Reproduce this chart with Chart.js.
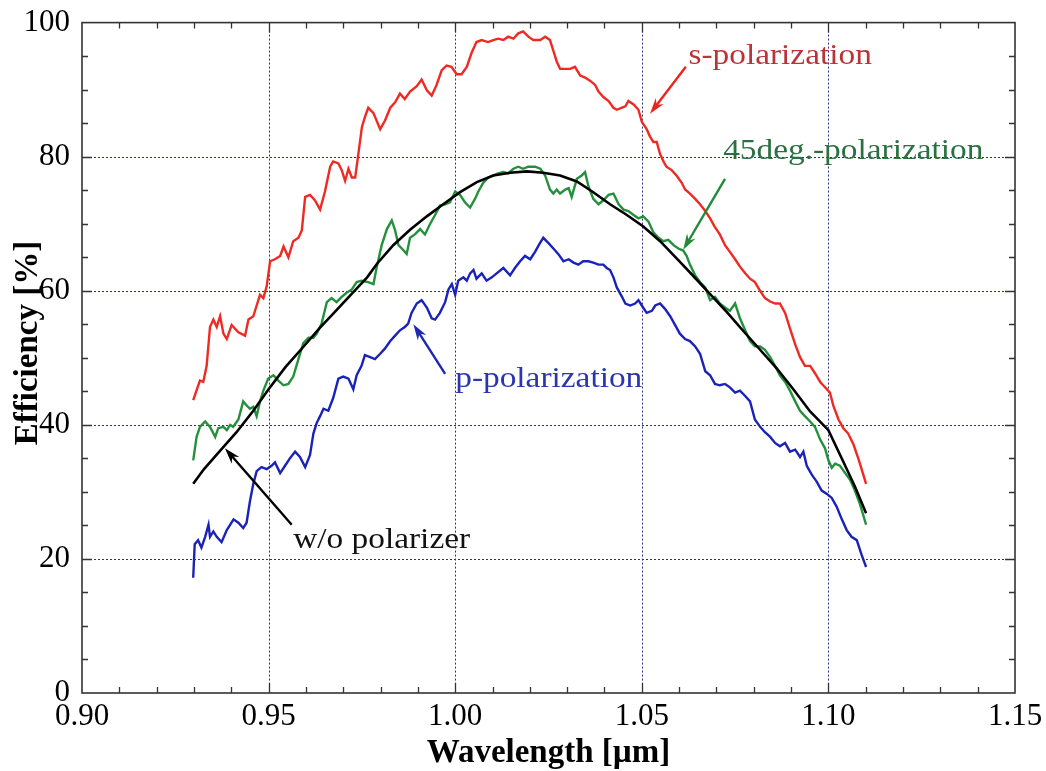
<!DOCTYPE html>
<html>
<head>
<meta charset="utf-8">
<script src="https://cdn.jsdelivr.net/npm/chart.js@4.4.0/dist/chart.umd.min.js"></script>
<style>
  html, body { margin: 0; padding: 0; background: #fff; }
  #wrap { width: 1046px; height: 771px; }
</style>
</head>
<body>
<div id="wrap"><canvas id="chart" width="1046" height="771"></canvas></div>
<script>
// s-polarization
const sWave = [0.9298,0.9316,0.9325,0.9334,0.9343,0.9352,0.9361,0.9370,0.9379,0.9388,0.9401,0.9419,0.9437,0.9446,0.9459,0.9468,0.9477,0.9486,0.9495,0.9504,
  0.9517,0.9531,0.9540,0.9553,0.9566,0.9580,0.9589,0.9598,0.9611,0.9624,0.9638,0.9651,0.9665,0.9673,0.9687,0.9696,0.9705,0.9714,0.9723,0.9732,
  0.9741,0.9750,0.9758,0.9767,0.9781,0.9799,0.9812,0.9826,0.9839,0.9852,0.9865,0.9879,0.9897,0.9910,0.9924,0.9937,0.9950,0.9964,0.9977,0.9990,
  1.0004,1.0017,1.0031,1.0044,1.0057,1.0071,1.0088,1.0102,1.0115,1.0129,1.0142,1.0156,1.0169,1.0182,1.0196,1.0209,1.0228,1.0241,1.0254,1.0263,
  1.0272,1.0281,1.0295,1.0308,1.0321,1.0335,1.0348,1.0362,1.0375,1.0384,1.0397,1.0411,1.0424,1.0433,1.0447,1.0456,1.0464,1.0478,1.0491,1.0500,
  1.0513,1.0522,1.0531,1.0540,1.0549,1.0558,1.0566,1.0580,1.0593,1.0607,1.0616,1.0629,1.0643,1.0656,1.0670,1.0683,1.0696,1.0709,1.0723,1.0736,
  1.0750,1.0763,1.0777,1.0790,1.0803,1.0817,1.0830,1.0844,1.0857,1.0870,1.0884,1.0897,1.0911,1.0924,1.0937,1.0951,1.0964,1.0978,1.0991,1.1004,
  1.1013,1.1027,1.1040,1.1053,1.1067,1.1080,1.1089,1.1101];
const sEff = [43.7,46.6,46.4,48.8,54.6,55.7,54.6,56.2,53.6,52.8,54.9,53.8,53.3,55.7,56.2,57.8,59.4,58.9,60.7,64.4,
  64.7,65.2,66.6,65.0,67.4,67.9,69.0,74.0,74.3,73.5,72.1,74.8,78.5,79.3,79.0,78.0,76.4,78.2,76.9,76.9,
  80.6,84.4,85.9,87.3,86.5,84.1,85.4,87.3,88.1,89.4,88.6,89.7,90.5,91.5,89.9,89.1,90.7,92.9,93.6,93.4,
  92.3,92.3,93.4,95.5,97.1,97.4,97.1,97.4,97.6,97.4,97.9,97.6,98.4,98.7,97.9,97.4,97.4,97.9,97.4,95.8,
  94.2,93.1,93.1,93.1,93.4,92.1,91.8,91.3,90.7,89.7,88.9,88.3,87.3,87.0,87.3,87.5,88.3,87.8,87.0,85.2,
  84.1,83.0,82.2,82.2,80.4,79.3,78.5,78.0,77.2,76.1,75.1,74.5,73.7,72.9,71.9,70.8,69.5,68.4,66.8,65.8,
  64.7,63.6,62.6,61.8,61.3,60.0,58.9,58.4,58.1,58.1,56.7,54.4,52.0,50.1,48.8,48.8,47.7,46.4,45.6,44.8,
  42.9,40.8,39.5,38.7,37.1,35.0,33.4,31.2];

// 45deg.-polarization
const gWave = [0.9298,0.9307,0.9316,0.9330,0.9343,0.9357,0.9365,0.9379,0.9388,0.9397,0.9405,0.9419,0.9432,0.9441,0.9450,0.9459,0.9468,0.9477,0.9486,0.9499,
  0.9513,0.9526,0.9540,0.9553,0.9566,0.9580,0.9593,0.9607,0.9620,0.9629,0.9642,0.9656,0.9669,0.9682,0.9696,0.9709,0.9723,0.9736,0.9749,0.9767,
  0.9781,0.9790,0.9803,0.9817,0.9830,0.9839,0.9848,0.9857,0.9870,0.9879,0.9892,0.9906,0.9919,0.9933,0.9946,0.9959,0.9973,0.9986,1.0000,1.0013,
  1.0026,1.0040,1.0053,1.0062,1.0075,1.0089,1.0102,1.0115,1.0129,1.0142,1.0156,1.0169,1.0182,1.0196,1.0214,1.0228,1.0241,1.0254,1.0263,1.0272,
  1.0281,1.0295,1.0304,1.0312,1.0326,1.0339,1.0348,1.0357,1.0370,1.0384,1.0397,1.0411,1.0424,1.0438,1.0451,1.0464,1.0478,1.0491,1.0504,1.0518,
  1.0531,1.0545,1.0558,1.0571,1.0585,1.0598,1.0611,1.0620,1.0629,1.0643,1.0656,1.0670,1.0683,1.0696,1.0709,1.0723,1.0736,1.0750,1.0763,1.0777,
  1.0790,1.0803,1.0817,1.0830,1.0844,1.0857,1.0870,1.0884,1.0897,1.0911,1.0924,1.0937,1.0951,1.0964,1.0978,1.0991,1.1000,1.1009,1.1018,1.1031,
  1.1045,1.1058,1.1071,1.1085,1.1101];
const gEff = [34.7,38.2,39.7,40.5,39.7,38.2,39.5,39.7,39.2,40.0,39.7,40.8,43.5,42.9,42.4,42.7,41.3,43.5,45.1,46.9,
  47.4,46.6,45.9,46.1,47.2,49.8,52.2,53.0,53.0,53.6,55.1,58.3,58.9,58.3,59.1,59.7,60.2,61.3,61.5,61.3,
  61.0,63.6,66.8,69.2,70.5,69.0,66.8,66.3,65.5,67.9,68.4,69.2,68.4,70.0,71.3,72.7,72.9,73.2,74.8,74.3,
  73.2,72.4,73.7,74.8,76.1,76.9,77.2,77.5,77.7,77.5,78.2,78.5,78.2,78.5,78.5,78.2,77.2,75.1,74.5,75.1,
  74.5,75.1,75.3,74.0,76.7,77.2,77.7,75.6,73.7,72.9,73.5,74.3,74.5,72.9,72.1,71.9,71.3,70.8,71.1,70.3,
  68.7,67.9,67.4,67.6,66.8,66.3,66.0,65.2,63.9,62.3,61.3,60.5,58.6,59.1,58.1,57.5,57.0,58.1,55.9,54.1,
  52.5,51.7,51.7,51.2,50.1,48.8,47.4,46.4,45.1,43.5,42.1,41.3,40.5,39.7,37.8,36.5,34.7,33.6,34.2,33.9,
  32.8,31.8,30.2,28.1,25.1];

// p-polarization
const pWave = [0.9298,0.9302,0.9311,0.9320,0.9330,0.9339,0.9343,0.9352,0.9361,0.9374,0.9388,0.9406,0.9419,0.9432,0.9441,0.9450,0.9459,0.9468,0.9481,0.9495,
  0.9508,0.9517,0.9531,0.9544,0.9557,0.9571,0.9584,0.9598,0.9611,0.9620,0.9629,0.9638,0.9647,0.9660,0.9673,0.9687,0.9700,0.9714,0.9727,0.9736,
  0.9749,0.9758,0.9772,0.9785,0.9799,0.9812,0.9826,0.9839,0.9852,0.9865,0.9874,0.9883,0.9897,0.9910,0.9924,0.9937,0.9946,0.9959,0.9973,0.9982,
  0.9991,1.0000,1.0008,1.0022,1.0031,1.0040,1.0049,1.0057,1.0071,1.0084,1.0098,1.0111,1.0129,1.0147,1.0160,1.0174,1.0187,1.0201,1.0214,1.0227,
  1.0236,1.0250,1.0263,1.0276,1.0290,1.0304,1.0317,1.0330,1.0343,1.0357,1.0370,1.0384,1.0397,1.0406,1.0415,1.0424,1.0433,1.0447,1.0456,1.0469,
  1.0482,1.0491,1.0500,1.0513,1.0527,1.0536,1.0549,1.0562,1.0576,1.0589,1.0602,1.0616,1.0629,1.0643,1.0656,1.0670,1.0683,1.0696,1.0709,1.0723,
  1.0736,1.0750,1.0763,1.0777,1.0790,1.0803,1.0817,1.0830,1.0844,1.0857,1.0870,1.0884,1.0897,1.0911,1.0924,1.0933,1.0942,1.0955,1.0969,1.0982,
  1.0996,1.1009,1.1022,1.1036,1.1049,1.1062,1.1076,1.1089,1.1101];
const pEff = [17.2,22.2,22.8,21.7,23.3,25.1,23.3,24.1,23.3,22.5,24.3,25.9,25.4,24.6,25.4,28.6,31.2,33.1,33.7,33.4,
  33.9,34.4,32.8,33.9,35.0,36.0,35.2,33.7,35.5,38.7,40.3,41.3,42.4,42.1,44.0,46.9,47.2,46.9,45.3,47.4,
  48.8,50.4,50.1,49.8,50.6,51.4,52.5,53.3,54.1,54.6,55.1,56.7,58.1,58.6,57.5,55.9,55.7,56.7,58.3,60.2,
  61.0,59.4,61.5,62.0,61.5,62.6,63.1,61.8,62.6,61.5,62.0,62.6,63.4,62.3,63.4,64.4,65.2,64.7,65.8,67.1,
  67.9,67.1,66.3,65.5,64.4,64.7,64.2,63.9,64.4,64.4,64.2,63.9,63.9,63.4,63.1,62.0,60.5,59.1,58.1,57.8,
  58.1,58.6,57.8,56.7,57.0,57.8,58.1,57.3,56.2,54.9,53.6,52.8,52.5,51.7,50.6,48.0,47.4,46.1,45.9,46.1,
  45.6,44.8,45.1,44.3,43.5,40.8,39.7,38.9,38.2,37.3,36.8,37.3,36.0,36.3,35.2,36.0,33.9,32.6,31.5,30.2,
  29.7,29.1,27.8,25.9,24.3,23.3,22.8,20.6,18.8];

// w/o polarizer
const nWave = [0.9298,0.9327,0.9368,0.9414,0.9459,0.9500,0.9545,0.9591,0.9636,0.9682,0.9727,0.9764,0.9790,0.9834,0.9879,0.9924,0.9968,1.0013,1.0058,1.0102,
  1.0147,1.0192,1.0236,1.0281,1.0326,1.0370,1.0415,1.0460,1.0504,1.0549,1.0594,1.0638,1.0683,1.0728,1.0772,1.0817,1.0862,1.0906,1.0951,1.1000,
  1.1040,1.1071,1.1101];
const nEff = [31.2,33.4,36.0,38.9,42.1,45.3,48.6,51.5,54.4,57.1,59.8,62.0,64.0,66.8,69.1,71.1,72.9,74.7,76.2,77.2,
  77.6,77.8,77.6,77.2,76.3,74.7,72.9,71.3,69.6,67.4,64.8,62.2,59.5,56.8,54.0,51.2,48.4,45.3,42.0,39.2,
  34.5,30.8,26.8];

const xTickLabels = ['0.90', '0.95', '1.00', '1.05', '1.10', '1.15'];
const yTickLabels = ['0', '20', '40', '60', '80', '100'];
const xTitle = 'Wavelength [µm]';
const yTitle = 'Efficiency [%]';

const serif = "'Liberation Serif', 'Times New Roman', serif";

function toPoints(wave, eff)
{
    return wave.map((w, i) => ({x: w, y: eff[i]}));
}

// labels with arrows, in data coordinates
const notes = [
    {text: 's-polarization', color: '#bb3336', arrow: '#e8261f', at: [1.0625, 93.8], tail: [1.0618, 93.4], tip: [1.0522, 86.4]},
    {text: '45deg.-polarization', color: '#2b7040', arrow: '#1f8a38', at: [1.0718, 79.7], tail: [1.0723, 76.7], tip: [1.0611, 66.1]},
    {text: 'p-polarization', color: '#2a35b0', arrow: '#1d27b4', at: [1.0000, 45.6], tail: [0.9973, 47.6], tip: [0.9888, 55.0]},
    {text: 'w/o polarizer', color: '#111', arrow: '#000', at: [0.9566, 21.7], tail: [0.9562, 25.1], tip: [0.9383, 36.5]}
];

const frameColor = '#333';
const gridColor = '#30307a';

const framePlugin = {
    id: 'frame',
    beforeDatasetsDraw(chart)
    {
        const {ctx, chartArea: a, scales: {x, y}} = chart;
        ctx.save();

        // dotted grid at major ticks
        ctx.strokeStyle = gridColor;
        ctx.lineWidth = 1;
        ctx.setLineDash([2, 2]);
        ctx.beginPath();
        for (let i = 1; i < 5; i++) {
            const px = Math.round(x.getPixelForValue(0.90 + i * 0.05)) + 0.5;
            ctx.moveTo(px, a.top);
            ctx.lineTo(px, a.bottom);
            const py = Math.round(y.getPixelForValue(i * 20)) + 0.5;
            ctx.moveTo(a.left, py);
            ctx.lineTo(a.right, py);
        }
        ctx.stroke();
        ctx.setLineDash([]);

        // inward tick marks on all four sides
        ctx.strokeStyle = frameColor;
        ctx.lineWidth = 1.3;
        ctx.beginPath();
        for (let i = 1; i < 25; i++) {
            const len = i % 5 === 0 ? 10 : 6;
            const px = Math.round(x.getPixelForValue(0.90 + i * 0.01)) + 0.5;
            ctx.moveTo(px, a.bottom); ctx.lineTo(px, a.bottom - len);
            ctx.moveTo(px, a.top); ctx.lineTo(px, a.top + len);
        }
        for (let i = 1; i < 20; i++) {
            const len = i % 4 === 0 ? 10 : 6;
            const py = Math.round(y.getPixelForValue(i * 5)) + 0.5;
            ctx.moveTo(a.left, py); ctx.lineTo(a.left + len, py);
            ctx.moveTo(a.right, py); ctx.lineTo(a.right - len, py);
        }
        ctx.stroke();

        ctx.lineWidth = 1.6;
        ctx.strokeRect(a.left, a.top, a.right - a.left, a.bottom - a.top);
        ctx.restore();
    }
};

const notePlugin = {
    id: 'notes',
    afterDatasetsDraw(chart)
    {
        const {ctx, chartArea: a, scales: {x, y}} = chart;
        ctx.save();
        notes.forEach(n => {
            const tx = x.getPixelForValue(n.tail[0]), ty = y.getPixelForValue(n.tail[1]);
            const hx = x.getPixelForValue(n.tip[0]), hy = y.getPixelForValue(n.tip[1]);
            const ang = Math.atan2(hy - ty, hx - tx);
            const c = Math.cos(ang), s = Math.sin(ang);
            ctx.strokeStyle = n.arrow;
            ctx.fillStyle = n.arrow;
            ctx.lineWidth = 2.4;
            ctx.beginPath();
            ctx.moveTo(tx, ty);
            ctx.lineTo(hx - 10 * c, hy - 10 * s);
            ctx.stroke();
            ctx.beginPath();
            ctx.moveTo(hx, hy);
            ctx.lineTo(hx - 16 * c + 5 * s, hy - 16 * s - 5 * c);
            ctx.lineTo(hx - 11 * c, hy - 11 * s);
            ctx.lineTo(hx - 16 * c - 5 * s, hy - 16 * s + 5 * c);
            ctx.closePath();
            ctx.fill();

            // text, slightly widened like the original slide
            const px = x.getPixelForValue(n.at[0]), py = y.getPixelForValue(n.at[1]);
            ctx.save();
            ctx.translate(px, py);
            ctx.scale(1.15, 1);
            ctx.font = '29px ' + serif;
            ctx.fillStyle = n.color;
            ctx.textAlign = 'left';
            ctx.textBaseline = 'alphabetic';
            ctx.fillText(n.text, 0, 0);
            ctx.restore();
        });

        // axis titles
        ctx.fillStyle = '#000';
        ctx.font = 'bold 33px ' + serif;
        ctx.textAlign = 'center';
        ctx.textBaseline = 'middle';
        ctx.fillText(xTitle, (a.left + a.right) / 2, a.bottom + 60);
        ctx.save();
        ctx.translate(28, a.top + (a.bottom - a.top) * 0.478);
        ctx.rotate(-Math.PI / 2);
        ctx.fillText(yTitle, 0, 0);
        ctx.restore();
        ctx.restore();
    }
};

const chart = new Chart(document.getElementById('chart').getContext('2d'), {
    type: 'line',
    data: {
        datasets: [
            {label: 'w/o polarizer', data: toPoints(nWave, nEff), borderColor: '#000000', borderWidth: 2.6},
            {label: '45deg.-polarization', data: toPoints(gWave, gEff), borderColor: '#25903c', borderWidth: 2.4},
            {label: 'p-polarization', data: toPoints(pWave, pEff), borderColor: '#1a22b8', borderWidth: 2.4},
            {label: 's-polarization', data: toPoints(sWave, sEff), borderColor: '#ee2a22', borderWidth: 2.4}
        ]
    },
    options: {
        responsive: false,
        animation: false,
        devicePixelRatio: 1,
        layout: {padding: {top: 18, right: 31, left: 0, bottom: 0}},
        elements: {point: {radius: 0}, line: {tension: 0}},
        plugins: {legend: {display: false}, tooltip: {enabled: false}},
        scales: {
            x: {
                type: 'linear',
                min: 0.90,
                max: 1.15,
                afterFit: s => { s.height = 78; },
                afterBuildTicks: s => { s.ticks = xTickLabels.map(t => ({value: parseFloat(t)})); },
                ticks: {
                    callback: v => v.toFixed(2),
                    font: {family: serif, size: 31},
                    color: '#000',
                    padding: -3,
                    maxRotation: 0
                },
                grid: {display: false},
                border: {display: false},
                title: {display: false}
            },
            y: {
                min: 0,
                max: 100,
                afterFit: s => { s.width = 82; },
                afterBuildTicks: s => { s.ticks = yTickLabels.map(t => ({value: Number(t)})); },
                ticks: {
                    font: {family: serif, size: 31},
                    color: '#000',
                    padding: 4
                },
                grid: {display: false},
                border: {display: false},
                title: {display: false}
            }
        }
    },
    plugins: [framePlugin, notePlugin]
});
</script>
</body>
</html>
